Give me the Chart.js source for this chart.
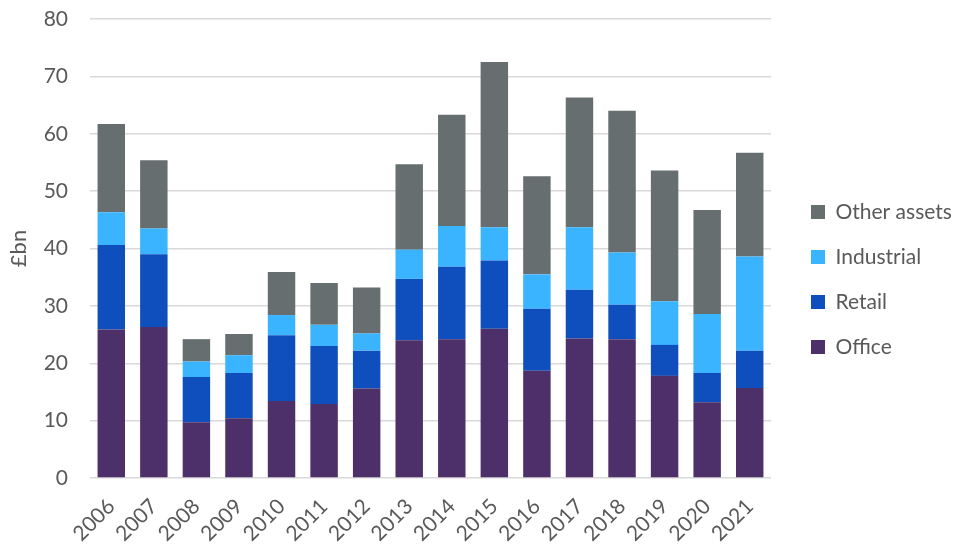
<!DOCTYPE html>
<html>
<head>
<meta charset="utf-8">
<script src="https://cdn.jsdelivr.net/npm/chart.js@4.4.1/dist/chart.umd.min.js"></script>
<style>
    html, body { margin: 0; padding: 0; background: #ffffff; }
    #wrap { width: 955px; height: 546px; position: relative; }
</style>
</head>
<body>
<div id="wrap"><canvas id="chart"></canvas></div>
<script>
// Categories and series (£bn)
const years = ['2006', '2007', '2008', '2009', '2010', '2011', '2012', '2013',
               '2014', '2015', '2016', '2017', '2018', '2019', '2020', '2021'];
const office = [25.9, 26.3, 9.7, 10.4, 13.4, 12.9, 15.6, 24.0, 24.2, 26.0, 18.7, 24.3, 24.2, 17.8, 13.2, 15.7];
const retail = [14.7, 12.7, 7.9, 7.9, 11.5, 10.1, 6.6, 10.7, 12.6, 11.9, 10.8, 8.5, 6.0, 5.4, 5.1, 6.5];
const industrial = [5.7, 4.5, 2.7, 3.1, 3.5, 3.7, 3.0, 5.1, 7.1, 5.8, 6.0, 10.9, 9.1, 7.6, 10.3, 16.4];
const otherAssets = [15.4, 11.9, 3.9, 3.7, 7.5, 7.3, 8.0, 14.9, 19.4, 28.8, 17.1, 22.6, 24.7, 22.8, 18.1, 18.1];
const yTicks = [0, 10, 20, 30, 40, 50, 60, 70, 80];

const FONT = 'Lato, "Open Sans", sans-serif';
const TEXT = '#595959';
const Y_AXIS_WIDTH = 84;    // title + tick labels left of the plot
const X_AXIS_HEIGHT = 68;   // rotated year labels below the plot
const LEGEND_WIDTH = 184;   // space kept right of the plot
const LEGEND_SHIFT = 16;    // legend items sit this far further right
const LEGEND_DROP = -3;

// Fixed legend column, moved away from the plot area
const legendPlace = {
    id: 'legendPlace',
    beforeInit(chart) {
        const fit = chart.legend.fit;
        chart.legend.fit = function () {
            fit.bind(chart.legend)();
            this.width = LEGEND_WIDTH;
        };
    },
    afterLayout(chart) {
        const lg = chart.legend;
        lg.left += LEGEND_SHIFT;
        lg.right += LEGEND_SHIFT;
        lg.top += LEGEND_DROP;
        lg.bottom += LEGEND_DROP;
    }
};

function series(label, data, color) {
    return {
        label: label,
        data: data,
        backgroundColor: color,
        borderWidth: 0,
        barPercentage: 0.645,
        categoryPercentage: 1.0
    };
}

const ctx = document.getElementById('chart').getContext('2d');
new Chart(ctx, {
    type: 'bar',
    data: {
        labels: years,
        datasets: [
            series('Office', office, '#4d2f69'),
            series('Retail', retail, '#0f4fbd'),
            series('Industrial', industrial, '#3bb4ff'),
            series('Other assets', otherAssets, '#666e70')
        ]
    },
    options: {
        responsive: true,
        maintainAspectRatio: false,
        animation: false,
        layout: { padding: { top: 19, right: 0, left: 6, bottom: 0 } },
        plugins: {
            legend: {
                position: 'right',
                reverse: true,
                labels: {
                    font: { family: FONT, size: 21 },
                    color: TEXT,
                    boxWidth: 14,
                    boxHeight: 14,
                    padding: 24,
                    useBorderRadius: false
                }
            },
            tooltip: { enabled: false },
            title: { display: false }
        },
        scales: {
            x: {
                stacked: true,
                grid: { display: false, drawTicks: false },
                border: { display: false },
                ticks: {
                    color: TEXT,
                    font: { family: FONT, size: 21 },
                    minRotation: 45,
                    maxRotation: 45,
                    padding: 16
                },
                afterFit: axis => {
                    axis.paddingLeft = 0;
                    axis.paddingRight = 0;
                    axis.height = X_AXIS_HEIGHT;
                }
            },
            y: {
                stacked: true,
                min: yTicks[0],
                max: yTicks[yTicks.length - 1],
                afterBuildTicks: axis => { axis.ticks = yTicks.map(v => ({ value: v })); },
                grid: { color: '#d9d9d9', lineWidth: 1.5, drawTicks: false },
                border: { display: false },
                ticks: {
                    color: TEXT,
                    font: { family: FONT, size: 21 },
                    padding: 22
                },
                title: {
                    display: true,
                    text: '£bn',
                    color: TEXT,
                    font: { family: FONT, size: 22 },
                    padding: { top: 0, bottom: 12 }
                },
                afterFit: axis => {
                    axis.paddingTop = 0;
                    axis.paddingBottom = 0;
                    axis.width = Y_AXIS_WIDTH;
                }
            }
        }
    },
    plugins: [legendPlace]
});
</script>
</body>
</html>
